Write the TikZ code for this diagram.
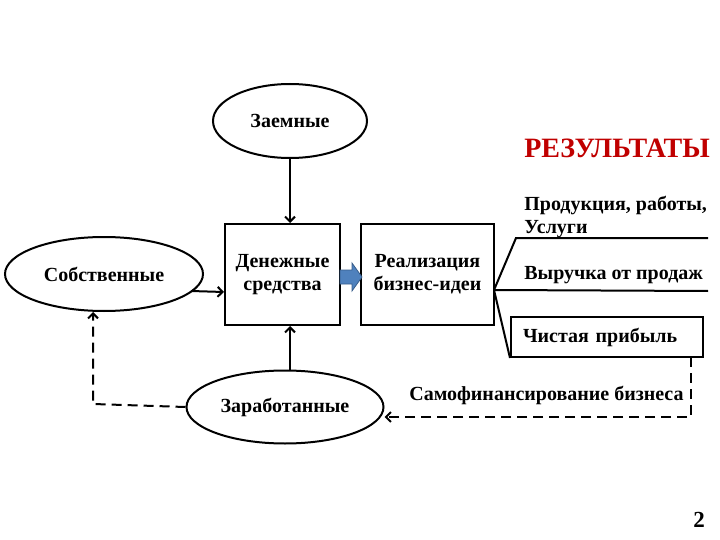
\documentclass[tikz,border=0pt]{standalone}
\usepackage{fontspec}
\setmainfont{Liberation Serif}
\usetikzlibrary{arrows.meta,shapes.geometric}
\definecolor{rouge}{RGB}{192,0,0}
\definecolor{bleu}{RGB}{79,129,189}
\definecolor{bleufonce}{RGB}{56,93,138}
\begin{document}
\begin{tikzpicture}[x=1pt,y=-1pt,line width=2pt,
  >={Straight Barb[length=5pt,width=10pt]},
  txt/.style={font=\bfseries\fontsize{20}{23}\selectfont},
  ovale/.style={draw,ellipse,inner sep=0pt,txt},
  boite/.style={draw,rectangle,inner sep=0pt,txt,align=center},
  tirets/.style={dash pattern=on 10pt off 6pt}]
\useasboundingbox (0,0) rectangle (720,540);
% sources
\node[ovale,minimum width=154pt,minimum height=74pt] (zaem) at (290,121) {Заемные};
\node[ovale,minimum width=198pt,minimum height=74pt] (sobst) at (104,274) {Собственные};
\node[ovale,minimum width=197pt,minimum height=73pt] (zarab) at (285,407) {Заработанные};
% blocs
\node[boite,minimum width=115pt,minimum height=101pt] (den) at (282.5,274.5) {Денежные\\средства};
\node[boite,minimum width=133pt,minimum height=101pt] (real) at (427.5,274.5) {Реализация\\бизнес-идеи};
\node[boite,minimum width=192pt,minimum height=40pt,text width=168pt,align=left] (prib) at (607,337) {Чистая прибыль};
% fleches
\draw [->] (zaem.south) -- (zaem.south |- den.north);
\draw [->] (191,291) -- (den.west |- 0,292);
\draw [->] (zaem.south |- zarab.north) -- (zaem.south |- den.south);
\draw [->,tirets] (zarab.west) -- (93,404) -- (sobst.south -| 93,0);
\coordinate (pb) at (691,357);
\draw [->,tirets] (pb) -- (691,417) -- (zarab.east |- 0,417);
\draw [fill=bleu,draw=bleufonce,line width=0.8pt] (340,270) -- (352,270) -- (352,263) -- (362,277) -- (352,291) -- (352,284) -- (340,284) -- cycle;
% resultats
\coordinate (r) at (494,290);
\draw (r) -- (516,238) -- (708,238);
\draw (r) -- (708,291);
\draw (r) -- (prib.south west);
\node[anchor=west,text=rouge,font=\bfseries\fontsize{28}{32}\selectfont] (titre) at (520,148) {РЕЗУЛЬТАТЫ};
\node[anchor=west,txt,align=left] (prod) at (520,217) {Продукция, работы,\\Услуги};
\node[anchor=west,txt] (vyr) at (520,275) {Выручка от продаж};
\node[anchor=west,txt] (samo) at (405,395) {Самофинансирование бизнеса};
\node[txt,font=\bfseries\fontsize{23}{26}\selectfont] (num) at (699,520) {2};
\end{tikzpicture}
\end{document}
